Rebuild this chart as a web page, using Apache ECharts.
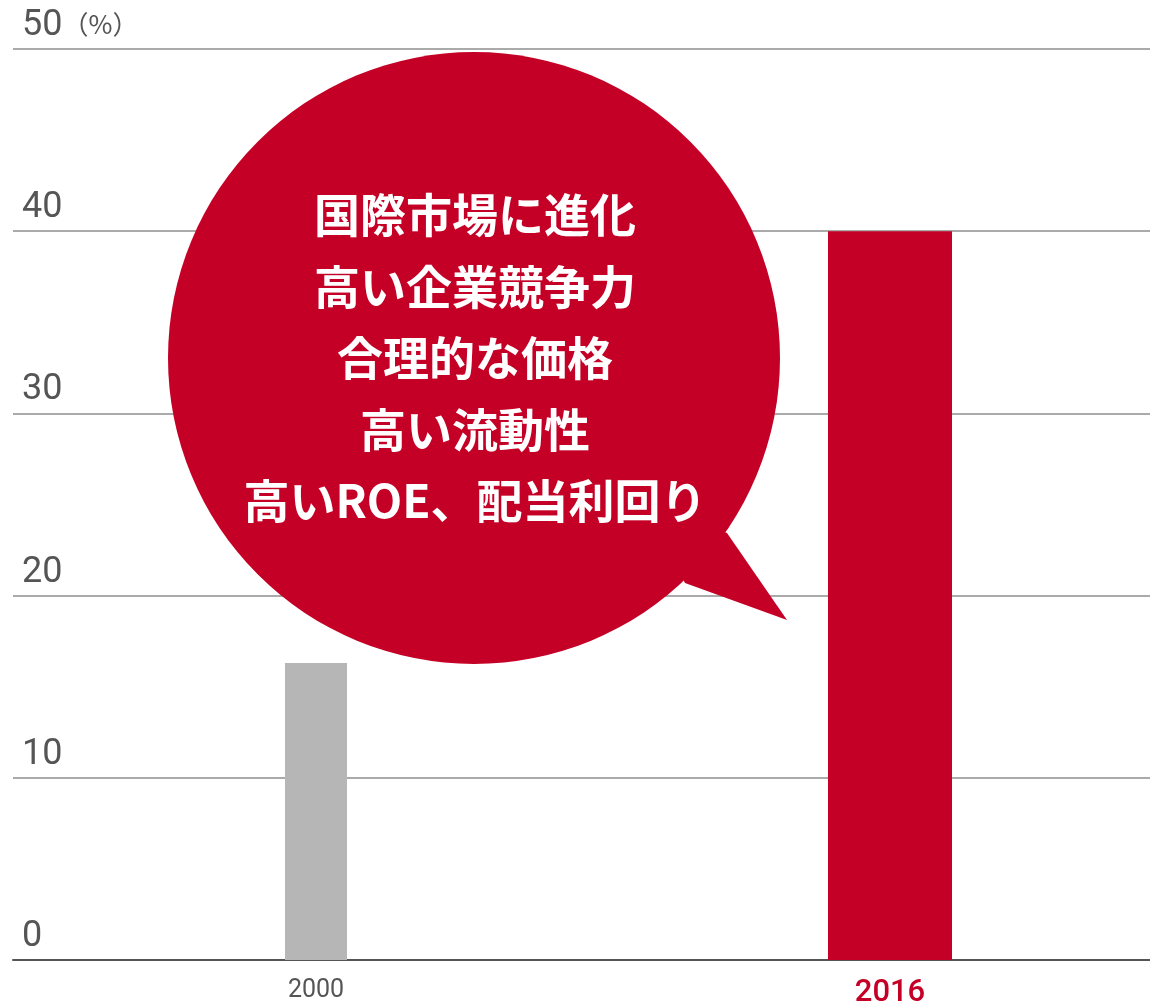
<!DOCTYPE html>
<html>
<head>
<meta charset="utf-8">
<script src="https://cdn.jsdelivr.net/npm/echarts@6/dist/echarts.min.js"></script>
<style>
  html, body { margin: 0; padding: 0; background: #fff; }
  #chart { width: 1150px; height: 1005px; }
</style>
</head>
<body>
<div id="chart"></div>
<script>
const years = ["2000", "2016"];
const values2000 = [16.3, "-"];
const values2016 = ["-", 40];
const yTicks = [0, 10, 20, 30, 40, 50];
const bubbleLines = [
  "国際市場に進化",
  "高い企業競争力",
  "合理的な価格",
  "高い流動性",
  "高いROE、配当利回り",
];

const RED = "#c50026";
const GRAY = "#b5b6b5";

const chart = echarts.init(document.getElementById("chart"));

// speech bubble drawn on top
const bubble = [
  {
    type: "circle",
    shape: { cx: 474, cy: 358, r: 306 },
    style: { fill: RED },
    z: 100,
  },
  {
    type: "polygon",
    shape: { points: [[727, 533], [787, 620], [685, 583], [640, 500]] },
    style: { fill: RED },
    z: 100,
  },
];
bubbleLines.forEach((line, i) => {
  bubble.push({
    type: "text",
    x: 475,
    y: 215 + i * 71.5,
    style: {
      text: line,
      fill: "#fff",
      font: 'bold 46px "Noto Sans CJK JP"',
      align: "center",
      verticalAlign: "middle",
    },
    z: 101,
  });
});

const options = {
  animation: false,
  grid: [
    { left: 13, right: 0, top: 49, bottom: 45, outerBoundsMode: "none" },
    { left: 29, right: -27, top: 49, bottom: 45, outerBoundsMode: "none" },
  ],
  xAxis: [
    {
      gridIndex: 0,
      type: "category",
      data: years,
      axisLine: { lineStyle: { color: "#555", width: 2 } },
      axisTick: { show: false },
      axisLabel: { show: false },
    },
    {
      gridIndex: 1,
      type: "category",
      data: [
        { value: years[0], textStyle: { color: "#555", fontSize: 25 } },
        { value: years[1], textStyle: { color: RED, fontSize: 31, fontWeight: 500 } },
      ],
      axisLine: { show: false },
      axisTick: { show: false },
      axisLabel: { margin: 18, fontFamily: "Roboto" },
    },
    {
      gridIndex: 1,
      type: "category",
      data: years,
      show: false,
    },
  ],
  yAxis: [
    {
      gridIndex: 0,
      type: "value",
      min: 0,
      max: 50,
      interval: 10,
      axisLine: { show: false },
      axisTick: { show: false },
      splitLine: { lineStyle: { color: "#aaa", width: 2 } },
      axisLabel: {
        inside: true,
        margin: 9,
        verticalAlign: "bottom",
        padding: [0, 0, 5, 0],
        color: "#555",
        fontFamily: "Roboto",
        fontSize: 36,
        lineHeight: 36,
        formatter: (v) => (v === yTicks[yTicks.length - 1] ? "{a|" + v + "}{b|（%）}" : v),
        rich: {
          a: { fontSize: 36, color: "#555", fontFamily: "Roboto", lineHeight: 36 },
          b: { fontSize: 26, color: "#555", fontFamily: "Noto Sans CJK JP", lineHeight: 36, padding: [0, 0, 4, 0] },
        },
      },
    },
    {
      gridIndex: 1,
      type: "value",
      min: 0,
      max: 50,
      show: false,
    },
  ],
  series: [
    {
      name: "2000",
      type: "bar",
      xAxisIndex: 1,
      yAxisIndex: 1,
      data: values2000,
      barWidth: 62,
      itemStyle: { color: GRAY },
    },
    {
      name: "2016",
      type: "bar",
      xAxisIndex: 2,
      yAxisIndex: 1,
      data: values2016,
      barWidth: 124,
      itemStyle: { color: RED },
    },
  ],
  graphic: bubble,
};

chart.setOption(options);
</script>
</body>
</html>
